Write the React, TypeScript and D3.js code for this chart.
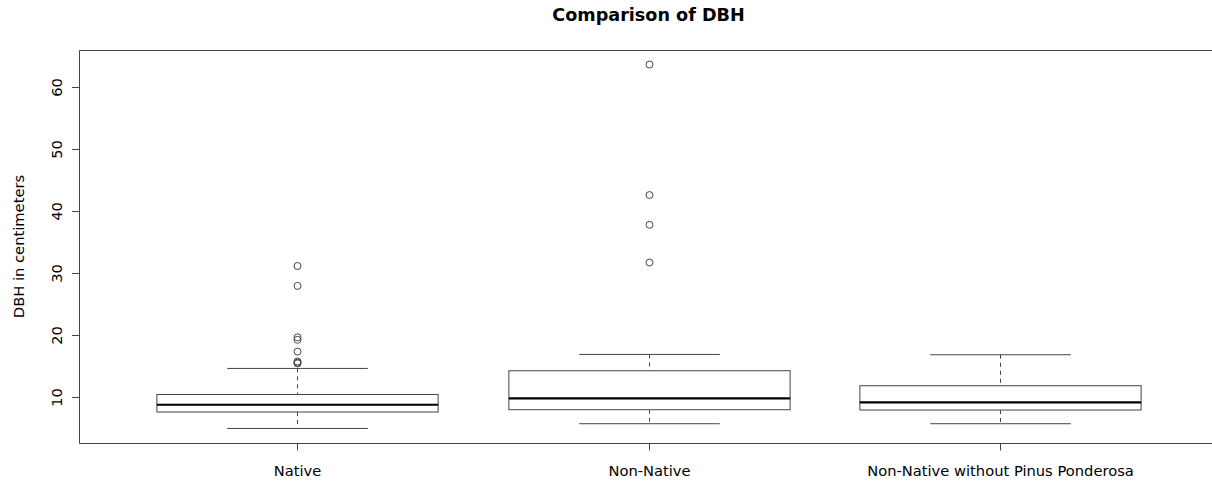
import React, { useEffect, useRef } from "react";
import * as d3 from "d3";

// box summaries
const groups = ["Native", "Non-Native", "Non-Native without Pinus Ponderosa"];
const lowerWhisker = [5.0, 5.76, 5.76];
const q1 = [7.65, 8.02, 7.97];
const median = [8.82, 9.84, 9.19];
const q3 = [10.48, 14.31, 11.89];
const upperWhisker = [14.68, 16.94, 16.89];
const outliers = [
	[31.2, 28.0, 19.7, 19.3, 17.4, 15.8, 15.6, 15.5],
	[63.7, 42.65, 37.85, 31.77],
	[],
];
const yTicks = [10, 20, 30, 40, 50, 60];

const W = 1212;
const H = 481;

const App = () => {
	const svgRef = useRef(null);

	useEffect(() => {
		document.body.style.margin = "0";
		const svg = d3.select(svgRef.current);
		svg.selectAll("*").remove();

		const margin = { top: 50, left: 79, bottom: 38, right: -6 };
		const font = "DejaVu Sans, sans-serif";
		const ink = "#444";
		const fs = 14.7;

		// R style 4% padding on both axes
		const allVals = d3.merge([lowerWhisker, upperWhisker, ...outliers]);
		const [lo, hi] = d3.extent(allVals);
		const pad = (hi - lo) * 0.04;
		const y = d3
			.scaleLinear()
			.domain([lo - pad, hi + pad])
			.range([H - margin.bottom, margin.top]);

		const xPad = groups.length * 0.04;
		const x = d3
			.scaleLinear()
			.domain([0.5 - xPad, groups.length + 0.5 + xPad])
			.range([margin.left, W - margin.right]);

		const g = svg.append("g");

		groups.forEach((name, i) => {
			const cx = Math.round(x(i + 1)) + 0.5;
			const boxW = x(1.4) - x(1);
			const capW = x(1.2) - x(1);

			// whiskers
			g.append("line")
				.attr("x1", cx).attr("x2", cx)
				.attr("y1", y(upperWhisker[i])).attr("y2", y(q3[i]))
				.attr("stroke", ink).attr("stroke-dasharray", "4,4");
			g.append("line")
				.attr("x1", cx).attr("x2", cx)
				.attr("y1", y(q1[i])).attr("y2", y(lowerWhisker[i]))
				.attr("stroke", ink).attr("stroke-dasharray", "4,4");
			[upperWhisker[i], lowerWhisker[i]].forEach((v) => {
				g.append("line")
					.attr("x1", cx - capW).attr("x2", cx + capW)
					.attr("y1", y(v)).attr("y2", y(v))
					.attr("stroke", ink);
			});

			// box
			g.append("rect")
				.attr("x", cx - boxW)
				.attr("y", y(q3[i]))
				.attr("width", boxW * 2)
				.attr("height", y(q1[i]) - y(q3[i]))
				.attr("fill", "white")
				.attr("stroke", ink);
			g.append("line")
				.attr("x1", cx - boxW).attr("x2", cx + boxW)
				.attr("y1", y(median[i])).attr("y2", y(median[i]))
				.attr("stroke", "black").attr("stroke-width", 2.2);

			// outliers
			g.selectAll(null)
				.data(outliers[i])
				.enter()
				.append("circle")
				.attr("cx", cx)
				.attr("cy", (d) => y(d))
				.attr("r", 3.5)
				.attr("fill", "none")
				.attr("stroke", ink);
		});

		// frame (right side falls outside the picture)
		const left = margin.left + 0.5;
		const top = margin.top + 0.5;
		const bottom = H - margin.bottom + 0.5;
		const right = W + 10;
		svg.append("path")
			.attr("d", `M${right},${top}H${left}V${bottom}H${right}`)
			.attr("fill", "none")
			.attr("stroke", ink);

		// y axis
		const yAxis = svg.append("g");
		yAxis.append("line")
			.attr("x1", left).attr("x2", left)
			.attr("y1", y(yTicks[0])).attr("y2", y(yTicks[yTicks.length - 1]))
			.attr("stroke", ink);
		yTicks.forEach((t) => {
			const ty = Math.round(y(t)) + 0.5;
			yAxis.append("line")
				.attr("x1", margin.left - 7).attr("x2", left)
				.attr("y1", ty).attr("y2", ty)
				.attr("stroke", ink);
			yAxis.append("text")
				.attr("transform", `translate(62,${ty}) rotate(-90)`)
				.attr("text-anchor", "middle")
				.attr("font-family", font)
				.attr("font-size", fs)
				.text(t);
		});

		// x axis
		const xAxis = svg.append("g");
		xAxis.append("line")
			.attr("x1", Math.round(x(1)) + 0.5).attr("x2", Math.round(x(groups.length)) + 0.5)
			.attr("y1", bottom).attr("y2", bottom)
			.attr("stroke", ink);
		groups.forEach((name, i) => {
			const cx = Math.round(x(i + 1)) + 0.5;
			xAxis.append("line")
				.attr("x1", cx).attr("x2", cx)
				.attr("y1", bottom).attr("y2", bottom + 7)
				.attr("stroke", ink);
			xAxis.append("text")
				.attr("x", cx)
				.attr("y", 476)
				.attr("text-anchor", "middle")
				.attr("font-family", font)
				.attr("font-size", fs)
				.text(name);
		});

		// labels
		svg.append("text")
			.attr("x", (margin.left + W - margin.right) / 2)
			.attr("y", 21)
			.attr("text-anchor", "middle")
			.attr("font-family", font)
			.attr("font-weight", "bold")
			.attr("font-size", 17.6)
			.text("Comparison of DBH");
		svg.append("text")
			.attr("transform", `translate(24,${(margin.top + H - margin.bottom) / 2}) rotate(-90)`)
			.attr("text-anchor", "middle")
			.attr("font-family", font)
			.attr("font-size", fs)
			.text("DBH in centimeters");
	}, []);

	return (
		<svg
			ref={svgRef}
			width={W}
			height={H}
			style={{ display: "block", background: "white" }}
		></svg>
	);
};

export default App;
